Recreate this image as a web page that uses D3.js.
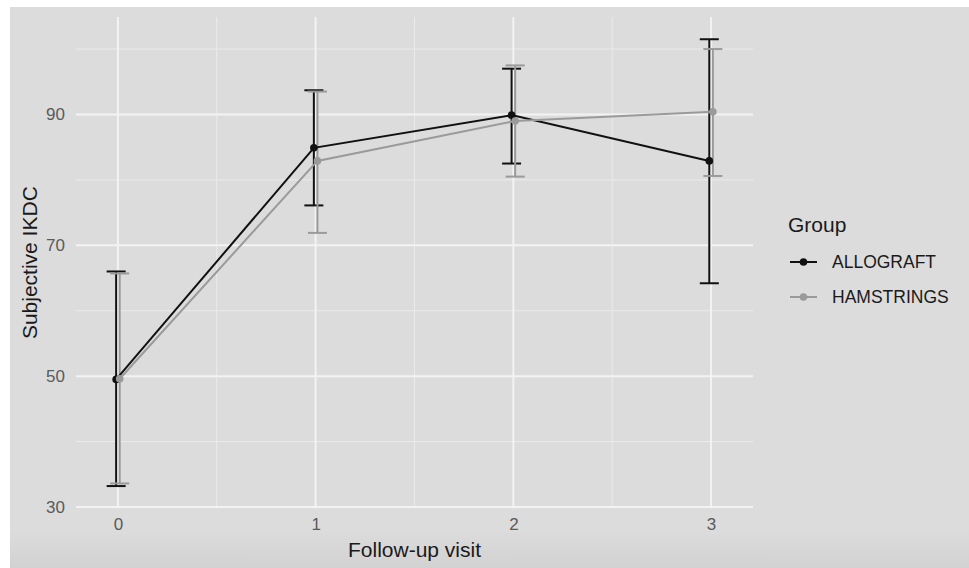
<!DOCTYPE html>
<html>
<head>
<meta charset="utf-8">
<script src="https://cdn.jsdelivr.net/npm/d3@7"></script>
<style>
  body { margin: 0; background: #fff; }
  svg { display: block; font-family: "Liberation Sans", Arial, sans-serif; }
</style>
</head>
<body>
<div id="chart"></div>
<script>
// Values
const visits = [0, 1, 2, 3];
const groups = ["ALLOGRAFT", "HAMSTRINGS"];
const allograftMean = [49.5, 84.9, 89.9, 82.9];
const allograftLower = [33.2, 76.1, 82.5, 64.2];
const allograftUpper = [66.0, 93.7, 97.0, 101.5];
const hamstringsMean = [49.6, 82.9, 89.0, 90.4];
const hamstringsLower = [33.6, 71.9, 80.5, 80.6];
const hamstringsUpper = [65.7, 93.5, 97.5, 100.0];
const yTicks = [30, 50, 70, 90];
const yMinor = [40, 60, 80, 100];
const xMinor = [0.5, 1.5, 2.5];

const width = 969, height = 568;
const panel = { left: 76, right: 753, top: 17, bottom: 508.3 };

const svg = d3.select("#chart").append("svg")
    .attr("width", width)
    .attr("height", height);

// Grey screenshot background with a slight shading at the bottom
const defs = svg.append("defs");
const grad = defs.append("linearGradient").attr("id", "bg").attr("x1", 0).attr("x2", 0).attr("y1", 0).attr("y2", 1);
grad.append("stop").attr("offset", "0.93").attr("stop-color", "#dcdcdc");
grad.append("stop").attr("offset", "1").attr("stop-color", "#d2d2d2");
svg.append("rect").attr("x", 10).attr("y", 7).attr("width", width - 10).attr("height", height - 7).attr("fill", "url(#bg)");

const x = d3.scaleLinear().domain([-0.212, 3.212]).range([panel.left, panel.right]);
const y = d3.scaleLinear().domain([29.8, 104.9]).range([panel.bottom, panel.top]);

const color = d3.scaleOrdinal().domain(groups).range(["#111111", "#9a9a9a"]);
const dodge = { ALLOGRAFT: -0.009, HAMSTRINGS: 0.009 };

const series = [
    { name: "ALLOGRAFT", mean: allograftMean, lo: allograftLower, hi: allograftUpper },
    { name: "HAMSTRINGS", mean: hamstringsMean, lo: hamstringsLower, hi: hamstringsUpper }
].map(s => ({
    name: s.name,
    values: visits.map((v, i) => ({ visit: v, mean: s.mean[i], lo: s.lo[i], hi: s.hi[i] }))
}));

// Grid lines
const grid = svg.append("g");
grid.selectAll(".ymin").data(yMinor).enter().append("line")
    .attr("x1", panel.left).attr("x2", panel.right)
    .attr("y1", d => y(d)).attr("y2", d => y(d))
    .attr("stroke", "#ebebeb").attr("stroke-width", 1);
grid.selectAll(".xmin").data(xMinor).enter().append("line")
    .attr("x1", d => x(d)).attr("x2", d => x(d))
    .attr("y1", panel.top).attr("y2", panel.bottom)
    .attr("stroke", "#ebebeb").attr("stroke-width", 1);
grid.selectAll(".ymaj").data(yTicks).enter().append("line")
    .attr("x1", panel.left).attr("x2", panel.right)
    .attr("y1", d => y(d)).attr("y2", d => y(d))
    .attr("stroke", "#f3f3f3").attr("stroke-width", 2);
grid.selectAll(".xmaj").data(visits).enter().append("line")
    .attr("x1", d => x(d)).attr("x2", d => x(d))
    .attr("y1", panel.top).attr("y2", panel.bottom)
    .attr("stroke", "#f3f3f3").attr("stroke-width", 2);

// Axes (ticks and labels only, like theme_minimal)
const yAxis = svg.append("g")
    .attr("transform", `translate(${panel.left},0)`)
    .call(d3.axisLeft(y).tickValues(yTicks).tickSize(0).tickPadding(11));
const xAxis = svg.append("g")
    .attr("transform", `translate(0,${panel.bottom})`)
    .call(d3.axisBottom(x).tickValues(visits).tickFormat(d3.format("d")).tickSize(0).tickPadding(10));
[xAxis, yAxis].forEach(a => {
    a.select(".domain").remove();
    a.selectAll("text").attr("fill", "#5a5a5a").style("font-size", "17px")
        .style("font-family", "'Liberation Sans', Arial, sans-serif");
});

svg.append("text")
    .attr("x", x(1.5)).attr("y", 557)
    .attr("text-anchor", "middle")
    .attr("fill", "#1a1a1a").style("font-size", "21px")
    .text("Follow-up visit");
svg.append("text")
    .attr("transform", `translate(37,${(panel.top + panel.bottom) / 2}) rotate(-90)`)
    .attr("text-anchor", "middle")
    .attr("fill", "#1a1a1a").style("font-size", "21px")
    .text("Subjective IKDC");

// Error bars
const capHalf = 9.5;
const bars = svg.append("g");
series.forEach(s => {
    const g = bars.append("g").attr("stroke", color(s.name)).attr("stroke-width", 2).attr("fill", "none");
    const px = d => x(d.visit + dodge[s.name]);
    g.selectAll(".v").data(s.values).enter().append("line")
        .attr("x1", px).attr("x2", px)
        .attr("y1", d => y(d.lo)).attr("y2", d => y(d.hi));
    g.selectAll(".t").data(s.values).enter().append("line")
        .attr("x1", d => px(d) - capHalf).attr("x2", d => px(d) + capHalf)
        .attr("y1", d => y(d.hi)).attr("y2", d => y(d.hi));
    g.selectAll(".b").data(s.values).enter().append("line")
        .attr("x1", d => px(d) - capHalf).attr("x2", d => px(d) + capHalf)
        .attr("y1", d => y(d.lo)).attr("y2", d => y(d.lo));
});

// Lines and points
const line = d3.line().x(d => d.x).y(d => y(d.mean));
series.forEach(s => {
    const pts = s.values.map(d => ({ ...d, x: x(d.visit + dodge[s.name]) }));
    svg.append("path").datum(pts)
        .attr("d", line)
        .attr("fill", "none")
        .attr("stroke", color(s.name))
        .attr("stroke-width", 2);
    svg.append("g").selectAll("circle").data(pts).enter().append("circle")
        .attr("cx", d => d.x).attr("cy", d => y(d.mean))
        .attr("r", 3.8)
        .attr("fill", color(s.name));
});

// Legend
const legend = svg.append("g").attr("transform", "translate(788,0)");
legend.append("text")
    .attr("x", 0).attr("y", 232)
    .attr("fill", "#1a1a1a").style("font-size", "21px")
    .text("Group");
groups.forEach((g, i) => {
    const cy = 262 + i * 35;
    legend.append("line")
        .attr("x1", 2).attr("x2", 29).attr("y1", cy).attr("y2", cy)
        .attr("stroke", color(g)).attr("stroke-width", 2);
    legend.append("circle")
        .attr("cx", 15.5).attr("cy", cy).attr("r", 3.8)
        .attr("fill", color(g));
    legend.append("text")
        .attr("x", 44).attr("y", cy + 6)
        .attr("fill", "#1a1a1a").style("font-size", "17.5px")
        .text(g);
});
</script>
</body>
</html>
